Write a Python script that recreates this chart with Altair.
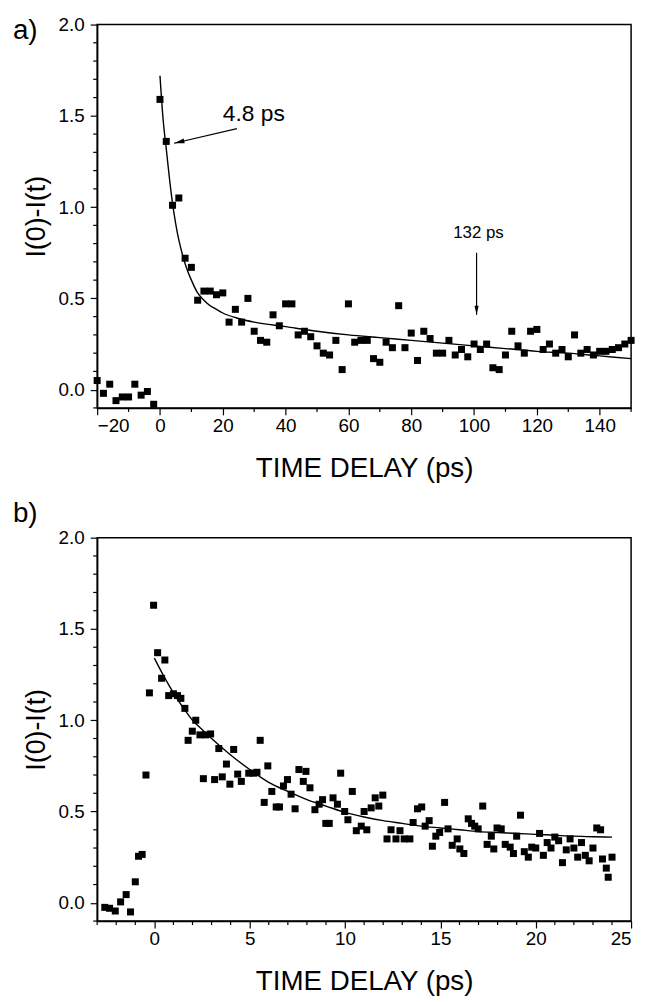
import altair as alt
import pandas as pd

FONT = "Liberation Sans"

# ---------------- panel a data ----------------
a_t = [-20, -18, -16, -14, -12, -10, -8, -6, -4, -2,
       0, 2, 4, 6, 8, 10, 12, 14, 16, 18, 20, 22, 24, 26, 28, 30,
       32, 34, 36, 38, 40, 42, 44, 46, 48, 50, 52, 54, 56, 58, 60,
       62, 64, 66, 68, 70, 72, 74, 76, 78, 80, 82, 84, 86, 88, 90,
       92, 94, 96, 98, 100, 102, 104, 106, 108, 110, 112, 114, 116, 118, 120,
       122, 124, 126, 128, 130, 132, 134, 136, 138, 140, 142, 144, 146, 148, 150]
a_v = [0.05, -0.02, 0.03, -0.06, -0.04, -0.04, 0.03, -0.03, -0.01, -0.08,
       1.59, 1.36, 1.01, 1.05, 0.72, 0.67, 0.49, 0.54, 0.54, 0.52, 0.53, 0.37, 0.44, 0.37, 0.50, 0.32,
       0.27, 0.26, 0.41, 0.35, 0.47, 0.47, 0.30, 0.32, 0.29, 0.24, 0.20, 0.19, 0.27, 0.11, 0.47,
       0.26, 0.27, 0.27, 0.17, 0.15, 0.26, 0.23, 0.46, 0.23, 0.31, 0.16, 0.32, 0.28, 0.20, 0.20,
       0.27, 0.19, 0.22, 0.18, 0.25, 0.22, 0.25, 0.12, 0.11, 0.19, 0.32, 0.24, 0.20, 0.32, 0.33,
       0.22, 0.25, 0.20, 0.22, 0.18, 0.30, 0.20, 0.22, 0.19, 0.21, 0.21, 0.22, 0.23, 0.25, 0.27]

a_fit_t = [0, 1, 2, 3, 4, 5, 6, 7, 8, 10, 12, 14, 16, 18, 20, 25, 30, 40, 50,
           60, 70, 80, 90, 100, 110, 120, 130, 140, 150]
a_fit_v = [1.72, 1.48, 1.32, 1.16, 1.02, 0.91, 0.82, 0.75, 0.69, 0.60, 0.53, 0.49, 0.46,
           0.44, 0.42, 0.39, 0.37, 0.345, 0.32, 0.30, 0.285, 0.27, 0.255, 0.24, 0.225,
           0.21, 0.20, 0.185, 0.17]

a_x_major = [-20, 0, 20, 40, 60, 80, 100, 120, 140]
a_x_minor = [-10, 10, 30, 50, 70, 90, 110, 130, 150]

# annotations panel a
a_lab_text = ["4.8 ps", "132 ps"]
a_lab_t = [20, 101.4]
a_lab_v = [1.51, 0.86]
a_arrow_t = [24.5, 100.8]
a_arrow_v = [1.43, 0.75]
a_arrow_t2 = [4.5, 100.8]
a_arrow_v2 = [1.35, 0.41]

# ---------------- panel b data ----------------
b_t = [-2.6, -2.35, -2.05, -1.77, -1.48, -1.25, -1.0, -0.83, -0.64, -0.44, -0.26, -0.04,
       0.17, 0.38, 0.55, 0.75, 1.0, 1.21, 1.39, 1.6, 1.77, 1.99, 2.17, 2.39, 2.57, 2.69,
       2.95, 3.16, 3.38, 3.56, 3.78, 3.96, 4.16, 4.37, 4.56, 4.95, 5.21, 5.38, 5.55, 5.76,
       5.95, 6.16, 6.39, 6.56, 6.77, 6.98, 7.17, 7.38, 7.58, 7.81, 7.95, 8.16, 8.42, 8.64,
       8.82, 8.99, 9.17, 9.37, 9.6, 9.77, 9.98, 10.15, 10.38, 10.59, 10.85, 11.0, 11.14,
       11.37, 11.58, 11.77, 11.98, 12.2, 12.41, 12.67, 12.88, 13.1, 13.4, 13.57, 13.8,
       14.02, 14.2, 14.41, 14.58, 14.76, 14.96, 15.22, 15.4, 15.62, 15.88, 16.02, 16.23,
       16.46, 16.63, 16.8, 16.98, 17.22, 17.45, 17.67, 17.8, 17.97, 18.19, 18.4, 18.66,
       18.83, 19.0, 19.2, 19.4, 19.61, 19.79, 20.0, 20.2, 20.4, 20.6, 20.8, 21.0, 21.2,
       21.4, 21.6, 21.8, 22.0, 22.2, 22.4, 22.6, 22.8, 23.0, 23.2, 23.4, 23.5, 23.7, 23.8, 24.0]
b_v = [-0.025, -0.03, -0.045, 0.005, 0.045, -0.05, 0.115, 0.255, 0.265, 0.70, 1.15, 1.63,
       1.37, 1.23, 1.33, 1.135, 1.145, 1.135, 1.12, 1.065, 0.89, 0.94, 1.0, 0.92, 0.68, 0.92,
       0.925, 0.675, 0.845, 0.69, 0.76, 0.65, 0.84, 0.705, 0.665, 0.71, 0.71, 0.715, 0.89, 0.55,
       0.75, 0.61, 0.525, 0.525, 0.64, 0.675, 0.595, 0.515, 0.73, 0.665, 0.72, 0.63, 0.51, 0.54,
       0.565, 0.435, 0.435, 0.575, 0.54, 0.71, 0.50, 0.455, 0.61, 0.395, 0.42, 0.50, 0.40,
       0.52, 0.575, 0.53, 0.59, 0.35, 0.40, 0.35, 0.395, 0.35, 0.35, 0.44, 0.515,
       0.525, 0.42, 0.45, 0.31, 0.365, 0.385, 0.55, 0.405, 0.315, 0.35, 0.295, 0.27,
       0.46, 0.435, 0.42, 0.405, 0.53, 0.32, 0.365, 0.295, 0.41, 0.405, 0.32, 0.305,
       0.27, 0.365, 0.48, 0.28, 0.25, 0.305, 0.30, 0.38, 0.26, 0.33, 0.30, 0.36, 0.34,
       0.22, 0.29, 0.35, 0.30, 0.25, 0.33, 0.26, 0.23, 0.30, 0.41, 0.40, 0.24, 0.19, 0.14, 0.25]

b_fit_t = [0, 0.5, 1, 1.5, 2, 2.5, 3, 4, 5, 6, 7, 8, 9, 10, 11, 12, 13, 14, 15, 16,
           17, 18, 19, 20, 21, 22, 23, 24]
b_fit_v = [1.34, 1.24, 1.15, 1.07, 1.0, 0.95, 0.90, 0.81, 0.73, 0.66, 0.61, 0.565, 0.53,
           0.495, 0.47, 0.45, 0.435, 0.42, 0.41, 0.40, 0.39, 0.385, 0.38, 0.375, 0.37,
           0.365, 0.362, 0.36]

b_x_major = [0, 5, 10, 15, 20, 25]
b_x_minor = [-3, -2, -1, 1, 2, 3, 4, 6, 7, 8, 9, 11, 12, 13, 14, 16, 17, 18, 19,
             21, 22, 23, 24]

y_major = [0.0, 0.5, 1.0, 1.5, 2.0]
y_minor = [-0.1, 0.1, 0.2, 0.3, 0.4, 0.6, 0.7, 0.8, 0.9, 1.1, 1.2, 1.3, 1.4,
           1.6, 1.7, 1.8, 1.9]

W, H = 539, 387
ARROW = "M0,0L0.5,2.2L-0.5,2.2Z"


def panel(t, v, fit_t, fit_v, xdom, xmaj, xmin, letter, letter_y, yt_pad, extra=None):
    x = alt.X("t:Q", scale=alt.Scale(domain=xdom, nice=False, zero=False),
              axis=alt.Axis(values=xmaj, title="TIME DELAY (ps)", format="d",
                            tickSize=7, labelPadding=2, titlePadding=19,
                            labelOverlap=False, grid=False))
    y = alt.Y("v:Q", scale=alt.Scale(domain=[-0.1, 2.0], nice=False, zero=False),
              axis=alt.Axis(values=y_major, title="I(0)-I(t)", format=".1f",
                            tickSize=7, labelPadding=6, titlePadding=yt_pad,
                            titleFontSize=27, labelOverlap=False, grid=False))
    pts = alt.Chart(pd.DataFrame({"t": t, "v": v})).mark_square(
        size=50, color="black", opacity=1).encode(x=x, y=y)
    fit = alt.Chart(pd.DataFrame({"t": fit_t, "v": fit_v})).mark_line(
        color="black", strokeWidth=1.4, interpolate="monotone").encode(x=x, y=y)
    xm = alt.Chart(pd.DataFrame({"t": xmin})).mark_rule(
        color="black", strokeWidth=1.2).encode(
        x=x, y=alt.value(H), y2=alt.value(H + 4))
    ym = alt.Chart(pd.DataFrame({"v": y_minor})).mark_rule(
        color="black", strokeWidth=1.2).encode(
        y=y, x=alt.value(0), x2=alt.value(-4))
    lab = alt.Chart(pd.DataFrame({"lab": [letter]})).mark_text(
        font=FONT, fontSize=28, align="left", baseline="top", color="black").encode(
        x=alt.value(-85), y=alt.value(letter_y), text="lab:N")
    layers = [xm, ym, fit, pts, lab]
    if extra:
        layers += extra(x, y)
    return alt.layer(*layers).properties(width=W, height=H)


def a_extra(x, y):
    ann = pd.DataFrame({"t": a_lab_t, "v": a_lab_v, "txt": a_lab_text})
    t1 = alt.Chart(ann.iloc[[0]]).mark_text(
        font=FONT, fontSize=23, align="left", baseline="middle", color="black").encode(
        x=x, y=y, text="txt:N")
    t2 = alt.Chart(ann.iloc[[1]]).mark_text(
        font=FONT, fontSize=17, align="center", baseline="middle", color="black").encode(
        x=x, y=y, text="txt:N")
    arr = pd.DataFrame({"t": a_arrow_t, "v": a_arrow_v,
                        "t2": a_arrow_t2, "v2": a_arrow_v2})
    lines = alt.Chart(arr).mark_rule(color="black", strokeWidth=1.2).encode(
        x=x, y=y, x2="t2:Q", y2="v2:Q")
    heads1 = alt.Chart(pd.DataFrame({"t": [a_arrow_t2[0]], "v": [a_arrow_v2[0]]})).mark_point(
        shape=ARROW, size=90, filled=True, color="black", opacity=1, angle=257).encode(x=x, y=y)
    heads2 = alt.Chart(pd.DataFrame({"t": [a_arrow_t2[1]], "v": [a_arrow_v2[1]]})).mark_point(
        shape=ARROW, size=70, filled=True, color="black", opacity=1, angle=180).encode(x=x, y=y)
    return [lines, heads1, heads2, t1, t2]


pa = panel(a_t, a_v, a_fit_t, a_fit_v, [-20, 150], a_x_major, a_x_minor,
           "a)", -7, 8, a_extra)
pb = panel(b_t, b_v, b_fit_t, b_fit_v, [-3, 25], b_x_major, b_x_minor,
           "b)", -38, 8)

chart = alt.vconcat(pa, pb, spacing=16).properties(
    padding={"left": 4, "top": 2, "right": 5, "bottom": 2},
    background="white"
).configure_view(
    stroke="black", strokeWidth=1.5
).configure_axis(
    domainColor="black", domainWidth=1.5, tickColor="black", tickWidth=1.2,
    labelColor="black", titleColor="black", labelFont=FONT, titleFont=FONT,
    labelFontSize=19, titleFontSize=28, titleFontWeight="normal", grid=False
)

chart.save("out.html", embed_options={"renderer": "svg", "actions": False})
